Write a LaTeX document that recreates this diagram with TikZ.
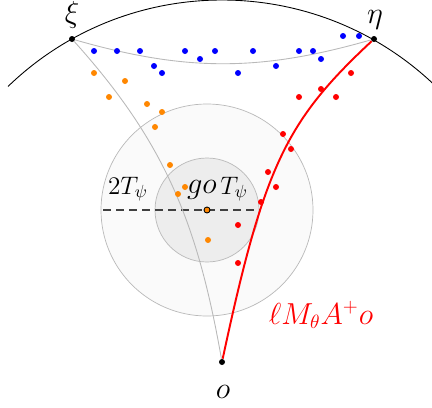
\documentclass[tikz,border=0pt]{standalone}
\usepackage{amsmath,amssymb}
\usepackage{tikz}
\usetikzlibrary{arrows.meta, positioning, calc}
\usepackage{xcolor}
\definecolor{dotblue}{RGB}{0, 0, 255}
\definecolor{dotorange}{RGB}{255, 135, 0}
\definecolor{dotred}{RGB}{255, 0, 0}
\definecolor{geogray}{RGB}{185, 185, 185}

\tikzset{
  pt/.style={circle, fill=black, inner sep=0pt, minimum size=1.2mm},
  bdot/.style={circle, fill=dotblue, inner sep=0pt, minimum size=1.2mm},
  odot/.style={circle, fill=dotorange, inner sep=0pt, minimum size=1.2mm},
  rdot/.style={circle, fill=dotred, inner sep=0pt, minimum size=1.2mm},
  geo/.style={draw=geogray, line width=0.5pt}
}

\begin{document}
\begin{tikzpicture}[x=0.2mm, y=0.2mm, >=Stealth]
    \useasboundingbox (0,0) rectangle (432,407);

    % balls around go
    \node[circle, draw=geogray, fill=black!2, minimum size=42.4mm, inner sep=0pt] (bigball) at (207,197) {};
    \node[circle, draw=geogray, fill=black!7, minimum size=20.8mm, inner sep=0pt] (smallball) at (207,197) {};

    % boundary at infinity
    \draw[line width=0.5pt] (222,99) ++(134:308) arc[start angle=134, end angle=46, radius=308];

    % points
    \node[pt] (xi) at (72,368) {};
    \node[pt] (eta) at (374,368) {};
    \node[pt] (o) at (222,45) {};
    \node[anchor=base, inner sep=0pt, font=\fontsize{17.28}{20}\selectfont] (xilabel) at (72,385) {$\xi$};
    \node[anchor=base, inner sep=0pt, font=\fontsize{17.28}{20}\selectfont] (etalabel) at (375,384) {$\eta$};
    \node[anchor=base, font=\fontsize{16}{19}\selectfont] (olabel) at (223,9) {$o$};

    % radius
    \coordinate (rleft) at (103,197);
    \coordinate (rright) at (261,197);
    \draw[black!75, dash pattern=on 1.6mm off 1mm, line width=0.6pt] (rleft) -- (rright);

    % geodesics
    \draw[geo] (xi) to[bend right=16] (eta);
    \draw[geo] (xi) to[out=-48, in=100] (o);
    \draw[dotred, line width=1.1pt] (eta) .. controls (286,286) and (264,241) .. (o);

    % samples
    \foreach \p in {(94,356),(117,356),(140,356),(185,356),(200,348),(215,356),(154,341),(162,334),
                    (238,334),(253,356),(276,341),(299,356),(313,356),(321,348),(343,371),(359,371)}
      \node[bdot] at \p {};
    \foreach \p in {(94,334),(125,326),(109,310),(147,303),(162,295),(155,280),(170,242),(185,220),
                    (178,213),(208,167)}
      \node[odot] at \p {};
    \foreach \p in {(351,334),(321,318),(299,310),(336,310),(283,273),(291,258),(268,235),(276,220),
                    (261,205),(238,182),(238,144)}
      \node[rdot] at \p {};

    \node[odot, draw=black, line width=0.5pt] (go) at (207,197) {};

    % labels
    \node[anchor=base, font=\fontsize{18}{22}\selectfont] (golabel) at (202,214) {$go$};
    \node[anchor=base, font=\fontsize{14}{17}\selectfont] (twoT) at (128,213) {$2T_\psi$};
    \node[anchor=base, font=\fontsize{14}{17}\selectfont] (oneT) at (234,213) {$T_\psi$};
    \node[anchor=base, text=dotred, font=\fontsize{16}{19}\selectfont] (raylabel) at (321,83) {$\ell M_\theta A^{+} o$};
\end{tikzpicture}
\end{document}
